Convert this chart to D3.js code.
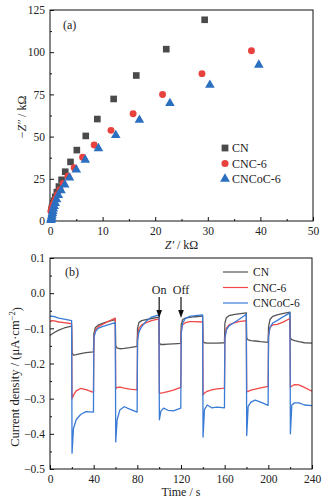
<!DOCTYPE html>
<html>
<head>
<meta charset="utf-8">
<script src="https://cdn.jsdelivr.net/npm/d3@7"></script>
<style>
  body { margin: 0; background: #fff; }
  svg text { font-family: "Liberation Serif", "Times New Roman", serif; fill: #222; }
</style>
</head>
<body>
<div id="chart"></div>
<script>
// ---- panel (a) : Nyquist plot ----
const series = ["CN", "CNC-6", "CNCoC-6"];
const cnZre = [29.4, 22.1, 16.4, 12.1, 9.0, 6.8, 5.1, 3.9, 2.9, 2.2, 1.7, 1.3, 1.0, 0.75, 0.55, 0.4, 0.3];
const cnZim = [119.2, 101.8, 86.2, 72.3, 60.4, 50.4, 42.0, 35.0, 29.2, 24.4, 20.4, 17.1, 14.3, 12.0, 10.0, 8.4, 7.0];
const cncZre = [38.3, 28.9, 21.4, 15.8, 11.6, 8.4, 6.2, 4.6, 3.4, 2.5, 1.9, 1.4, 1.05, 0.8, 0.6, 0.45, 0.35, 0.25, 0.18];
const cncZim = [100.9, 87.3, 74.9, 63.5, 53.7, 45.0, 37.8, 31.6, 26.5, 22.2, 18.6, 15.6, 13.1, 11.1, 9.5, 8.2, 7.3, 6.4, 5.8];
const cocZre = [39.7, 30.4, 22.8, 17.0, 12.5, 9.2, 6.7, 5.0, 3.7, 2.8, 2.1, 1.6, 1.25, 1.0, 0.8, 0.65, 0.55, 0.45, 0.38, 0.32, 0.27, 0.22, 0.18];
const cocZim = [92.5, 80.6, 69.8, 59.8, 50.8, 43.0, 36.2, 30.4, 25.6, 21.5, 18.1, 15.2, 12.7, 10.6, 8.8, 7.2, 5.8, 4.6, 3.5, 2.5, 1.7, 1.0, 0.5];
const zreTicks = [0, 10, 20, 30, 40, 50];
const zimTicks = [0, 25, 50, 75, 100, 125];

// ---- panel (b) : transient photocurrent ----
const times = [
  0, 1.5, 4, 8, 13, 19.8,
  20.2, 21.5, 24, 28, 33, 39.8,
  40.2, 41.5, 44, 48, 53, 59.8,
  60.2, 61.5, 64, 68, 73, 79.8,
  80.2, 81.5, 84, 88, 93, 99.8,
  100.2, 101.5, 104, 108, 113, 119.8,
  120.2, 121.5, 124, 128, 133, 139.8,
  140.2, 141.5, 144, 148, 153, 159.8,
  160.2, 161.5, 164, 168, 173, 179.8,
  180.2, 181.5, 184, 188, 193, 199.8,
  200.2, 201.5, 204, 208, 213, 219.8,
  220.2, 221.5, 224, 228, 233, 240];
const cnJ = [
  -0.120, -0.117, -0.112, -0.105, -0.099, -0.094,
  -0.170, -0.176, -0.175, -0.172, -0.169, -0.167,
  -0.115, -0.098, -0.091, -0.086, -0.081, -0.075,
  -0.150, -0.156, -0.158, -0.157, -0.155, -0.151,
  -0.100, -0.083, -0.078, -0.075, -0.072, -0.068,
  -0.142, -0.146, -0.146, -0.145, -0.144, -0.143,
  -0.090, -0.075, -0.071, -0.069, -0.067, -0.065,
  -0.138, -0.141, -0.142, -0.142, -0.142, -0.141,
  -0.085, -0.070, -0.064, -0.061, -0.059, -0.056,
  -0.128, -0.133, -0.135, -0.136, -0.138, -0.140,
  -0.095, -0.075, -0.066, -0.062, -0.058, -0.054,
  -0.127, -0.132, -0.135, -0.138, -0.141, -0.142];
const cncJ = [
  -0.082, -0.078, -0.079, -0.082, -0.084, -0.087,
  -0.300, -0.290, -0.278, -0.271, -0.274, -0.282,
  -0.125, -0.105, -0.096, -0.089, -0.081, -0.071,
  -0.272, -0.268, -0.267, -0.270, -0.273, -0.275,
  -0.125, -0.100, -0.090, -0.084, -0.078, -0.073,
  -0.285, -0.284, -0.283, -0.280, -0.276, -0.268,
  -0.105, -0.090, -0.084, -0.081, -0.081, -0.082,
  -0.289, -0.284, -0.279, -0.275, -0.272, -0.270,
  -0.128, -0.100, -0.090, -0.085, -0.081, -0.078,
  -0.281, -0.279, -0.276, -0.273, -0.269, -0.265,
  -0.120, -0.098, -0.090, -0.089, -0.083, -0.072,
  -0.268, -0.264, -0.260, -0.261, -0.268, -0.279];
const cocJ = [
  -0.066, -0.065, -0.067, -0.071, -0.074, -0.078,
  -0.455, -0.385, -0.360, -0.345, -0.337, -0.338,
  -0.128, -0.110, -0.100, -0.095, -0.090, -0.084,
  -0.423, -0.360, -0.332, -0.323, -0.330, -0.338,
  -0.135, -0.110, -0.095, -0.080, -0.068, -0.062,
  -0.360, -0.336, -0.327, -0.333, -0.335, -0.327,
  -0.115, -0.085, -0.072, -0.066, -0.064, -0.062,
  -0.409, -0.331, -0.318, -0.326, -0.324, -0.326,
  -0.130, -0.105, -0.093, -0.085, -0.075, -0.060,
  -0.405, -0.322, -0.310, -0.304, -0.310, -0.319,
  -0.125, -0.097, -0.085, -0.078, -0.068, -0.056,
  -0.400, -0.318, -0.312, -0.312, -0.318, -0.320];
const timeTicks = [0, 40, 80, 120, 160, 200, 240];
const jTicks = [0.1, 0.0, -0.1, -0.2, -0.3, -0.4, -0.5];
const lightMarks = [{t: 100, label: "On"}, {t: 120, label: "Off"}];

const markColors = ["#4a4a4a", "#e8423f", "#2b6fc0"];
const lineColors = ["#555555", "#f04848", "#3a7bd5"];

const svg = d3.select("#chart")
    .append("svg")
    .attr("width", 324)
    .attr("height", 501);

const fmtMinus = d => d3.format(".1f")(d).replace("-", "\u2212");

function frame(g, w, h) {
    g.append("rect")
        .attr("width", w).attr("height", h)
        .attr("fill", "none").attr("stroke", "#111").attr("stroke-width", 1);
}

// ================= panel (a) =================
const ma = {left: 50, top: 10, width: 263, height: 211};
const ga = svg.append("g").attr("transform", `translate(${ma.left},${ma.top})`);

const xa = d3.scaleLinear().domain([0, 50]).range([0, ma.width]);
const ya = d3.scaleLinear().domain([0, 125]).range([ma.height, 0]);

// minor ticks
ga.append("g").attr("transform", `translate(0,${ma.height})`)
    .call(d3.axisBottom(xa).tickValues(d3.range(5, 50, 10)).tickSize(-2).tickFormat(""))
    .call(g => g.select(".domain").remove());
ga.append("g")
    .call(d3.axisLeft(ya).tickValues(d3.range(12.5, 125, 25)).tickSize(-2).tickFormat(""))
    .call(g => g.select(".domain").remove());
// major ticks
ga.append("g").attr("transform", `translate(0,${ma.height})`)
    .call(d3.axisBottom(xa).tickValues(zreTicks).tickSize(-4).tickPadding(6))
    .call(g => g.select(".domain").remove())
    .selectAll("text").style("font-size", "11.5px");
ga.append("g")
    .call(d3.axisLeft(ya).tickValues(zimTicks).tickSize(-4).tickPadding(5))
    .call(g => g.select(".domain").remove())
    .selectAll("text").style("font-size", "11.5px");
ga.selectAll(".tick line").attr("stroke", "#111");
frame(ga, ma.width, ma.height);

// axis titles
const xTitleA = ga.append("text")
    .attr("x", ma.width / 2).attr("y", 249 - ma.top)
    .attr("text-anchor", "middle").style("font-size", "12px");
xTitleA.append("tspan").style("font-style", "italic").text("Z\u2032");
xTitleA.append("tspan").text(" / k\u03a9");

const yTitleA = svg.append("text")
    .attr("transform", "translate(26,117) rotate(-90)")
    .attr("text-anchor", "middle").style("font-size", "12px");
yTitleA.append("tspan").text("\u2212");
yTitleA.append("tspan").style("font-style", "italic").text("Z\u2033");
yTitleA.append("tspan").text(" / k\u03a9");

ga.append("text").attr("x", 13).attr("y", 19).style("font-size", "12px").text("(a)");

// markers
const symbols = [d3.symbolSquare, d3.symbolCircle, d3.symbolTriangle];
const symSizes = [44, 38, 40];
const nyq = [
    cnZre.map((d, i) => ({x: d, y: cnZim[i]})),
    cncZre.map((d, i) => ({x: d, y: cncZim[i]})),
    cocZre.map((d, i) => ({x: d, y: cocZim[i]}))
];
nyq.forEach((pts, k) => {
    ga.append("g")
        .selectAll("path")
        .data(pts)
        .enter()
        .append("path")
        .attr("d", d3.symbol().type(symbols[k]).size(symSizes[k]))
        .attr("transform", d => `translate(${xa(d.x)},${ya(d.y)})`)
        .attr("fill", markColors[k]);
});

// legend (a)
const legA = ga.append("g").attr("transform", `translate(${225 - ma.left},${148 - ma.top})`);
series.forEach((name, k) => {
    const row = legA.append("g").attr("transform", `translate(0,${k * 15.5})`);
    row.append("path")
        .attr("d", d3.symbol().type(symbols[k]).size(symSizes[k] * 1.05))
        .attr("fill", markColors[k]);
    row.append("text").attr("x", 7).attr("dy", "0.35em")
        .style("font-size", "12px").text(name);
});

// ================= panel (b) =================
const mb = {left: 50, top: 258, width: 262, height: 211};
const gb = svg.append("g").attr("transform", `translate(${mb.left},${mb.top})`);

const xb = d3.scaleLinear().domain([0, 240]).range([0, mb.width]);
const yb = d3.scaleLinear().domain([-0.5, 0.1]).range([mb.height, 0]);

gb.append("g").attr("transform", `translate(0,${mb.height})`)
    .call(d3.axisBottom(xb).tickValues(d3.range(20, 240, 40)).tickSize(-2).tickFormat(""))
    .call(g => g.select(".domain").remove());
gb.append("g")
    .call(d3.axisLeft(yb).tickValues([0.05, -0.05, -0.15, -0.25, -0.35, -0.45]).tickSize(-2).tickFormat(""))
    .call(g => g.select(".domain").remove());
gb.append("g").attr("transform", `translate(0,${mb.height})`)
    .call(d3.axisBottom(xb).tickValues(timeTicks).tickSize(-4).tickPadding(6))
    .call(g => g.select(".domain").remove())
    .selectAll("text").style("font-size", "11.5px");
gb.append("g")
    .call(d3.axisLeft(yb).tickValues(jTicks).tickSize(-4).tickPadding(5).tickFormat(fmtMinus))
    .call(g => g.select(".domain").remove())
    .selectAll("text").style("font-size", "11.5px");
gb.selectAll(".tick line").attr("stroke", "#111");

// lines
const curves = [cnJ, cncJ, cocJ];
const line = d3.line().x(d => xb(d.t)).y(d => yb(d.v));
curves.forEach((vals, k) => {
    gb.append("path")
        .datum(times.map((t, i) => ({t: t, v: vals[i]})))
        .attr("fill", "none")
        .attr("stroke", lineColors[k])
        .attr("stroke-width", 1.3)
        .attr("stroke-linejoin", "round")
        .attr("d", line);
});
frame(gb, mb.width, mb.height);

gb.append("text")
    .attr("x", mb.width / 2).attr("y", 496 - mb.top)
    .attr("text-anchor", "middle").style("font-size", "12px").text("Time / s");

const yTitleB = svg.append("text")
    .attr("transform", "translate(19,377) rotate(-90)")
    .attr("text-anchor", "middle").style("font-size", "12.5px");
yTitleB.append("tspan").text("Current density / (\u03bcA\u00b7cm");
yTitleB.append("tspan").attr("dy", "-0.45em").style("font-size", "8.5px").text("\u22122");
yTitleB.append("tspan").attr("dy", "0.45em").text(")");

gb.append("text").attr("x", 15).attr("y", 18).style("font-size", "12px").text("(b)");

// on / off arrows
lightMarks.forEach(m => {
    gb.append("text")
        .attr("x", xb(m.t)).attr("y", 294 - mb.top)
        .attr("text-anchor", "middle").style("font-size", "12px").text(m.label);
    gb.append("line")
        .attr("x1", xb(m.t)).attr("x2", xb(m.t))
        .attr("y1", 297 - mb.top).attr("y2", 311 - mb.top)
        .attr("stroke", "#111").attr("stroke-width", 1.2);
    gb.append("path")
        .attr("d", `M${xb(m.t) - 2.8},${310 - mb.top}L${xb(m.t) + 2.8},${310 - mb.top}L${xb(m.t)},${318 - mb.top}Z`)
        .attr("fill", "#111");
});

// legend (b)
const legB = gb.append("g").attr("transform", `translate(${223 - mb.left},${272 - mb.top})`);
series.forEach((name, k) => {
    const row = legB.append("g").attr("transform", `translate(0,${k * 15.5})`);
    row.append("line").attr("x1", 0).attr("x2", 25)
        .attr("stroke", lineColors[k]).attr("stroke-width", 1.2);
    row.append("text").attr("x", 30).attr("dy", "0.35em")
        .style("font-size", "11.5px").text(name);
});
</script>
</body>
</html>
